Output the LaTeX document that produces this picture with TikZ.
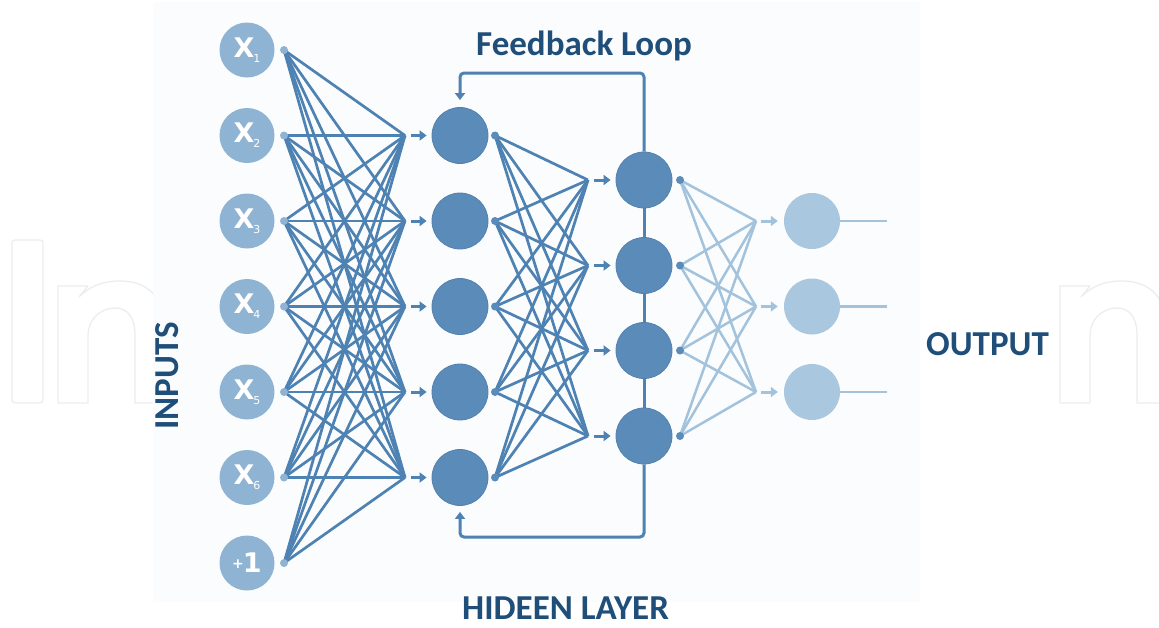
\documentclass[tikz,border=0pt]{standalone}
\usepackage{fontspec}
\setmainfont{Carlito}
\newfontfamily\djv{DejaVu Sans}
\usetikzlibrary{arrows.meta}
\definecolor{inC}{HTML}{8EB3D3}
\definecolor{hidC}{HTML}{5B8BB8}
\definecolor{hidD}{HTML}{5381AF}
\definecolor{outC}{HTML}{A9C7DE}
\definecolor{lineC}{HTML}{4D82B3}
\definecolor{lightL}{HTML}{A3C2DB}
\definecolor{txtC}{HTML}{1F4E79}
\definecolor{wmC}{HTML}{EBEEF0}
\definecolor{bgC}{HTML}{FBFCFD}
\pgfdeclarelayer{wm}
\pgfdeclarelayer{bg}
\pgfsetlayers{wm,bg,main}
\begin{document}
\begin{tikzpicture}[x=1pt,y=-1pt,
  incirc/.style={circle,fill=inC,minimum size=55pt,inner sep=0pt,text=white},
  hidcirc/.style={circle,fill=hidC,draw=hidD,line width=0.8pt,minimum size=56pt,inner sep=0pt},
  outcirc/.style={circle,fill=outC,minimum size=56pt,inner sep=0pt},
  dotn/.style={circle,fill=#1,minimum size=8pt,inner sep=0pt},
  lone/.style={draw=lineC,line width=2.7pt},
  lthree/.style={draw=lightL,line width=2.5pt},
  arrS/.style={draw=#1,line width=3pt,-{Triangle[length=7pt,width=10pt]}},
  fbline/.style={draw=lineC,line width=3pt,rounded corners=4pt,-{Triangle[length=7pt,width=10pt]}},
  title/.style={text=txtC,font=\fontsize{35}{35}\selectfont\bfseries,inner sep=0pt},
  wmline/.style={draw=wmC,line width=1.3pt,line join=round}
]
\clip (0,0) rectangle (1159,627);
\useasboundingbox (0,0) rectangle (1159,627);

% background and watermark
\begin{pgfonlayer}{wm}
\fill[white] (0,0) rectangle (1159,627);
\draw[wmline,rounded corners=3pt] (12,240) rectangle (43,403);
\foreach \ox in {58,1060}{
\draw[wmline] (\ox,403) -- (\ox,286) -- (\ox+30,286) -- (\ox+21,297)
  .. controls (\ox+35,283) and (\ox+50,281) .. (\ox+62,281)
  .. controls (\ox+92,281) and (\ox+107,300) .. (\ox+107,330)
  -- (\ox+107,403) -- (\ox+77,403) -- (\ox+77,335)
  .. controls (\ox+77,318) and (\ox+70,308) .. (\ox+57,308)
  .. controls (\ox+42,308) and (\ox+30,320) .. (\ox+30,335)
  -- (\ox+30,403) -- cycle;}
\fill[bgC] (153,2) rectangle (920,602);
\end{pgfonlayer}

% input layer
\foreach \y [count=\i] in {50,135.5,221,306.5,392,477.5}{
  \node[incirc] (in\i) at (247,\y) {\djv\bfseries\fontsize{27}{27}\selectfont X\kern-1pt\raisebox{-5pt}{\mdseries\fontsize{11}{11}\selectfont\i}};
  \node[dotn=inC] (d0\i) at (284,\y) {};
}
\node[incirc] (in7) at (247,563) {\djv\bfseries\raisebox{4pt}{\fontsize{14}{14}\selectfont+}\kern-1pt\fontsize{27}{27}\selectfont 1};
\node[dotn=inC] (d07) at (284,563) {};

% hidden layer 1
\foreach \y [count=\j] in {135.5,221,306.5,392,477.5}{
  \coordinate (c1\j) at (405,\y);
  \node[hidcirc] (h1\j) at (460,\y) {};
  \node[dotn=hidC] (d1\j) at (495,\y) {};
}
% hidden layer 2
\foreach \y [count=\k] in {180,265.5,350.5,436}{
  \coordinate (c2\k) at (588,\y);
  \node[hidcirc] (h2\k) at (644,\y) {};
  \node[dotn=hidC] (d2\k) at (680,\y) {};
}
% output layer
\foreach \y [count=\m] in {221,306.5,392}{
  \coordinate (c3\m) at (756,\y);
  \node[outcirc] (o\m) at (812,\y) {};
  \coordinate (oe\m) at (887,\y);
}
\coordinate (fbtl) at (460,73);
\coordinate (fbbl) at (460,537);

\begin{pgfonlayer}{bg}
\foreach \i in {1,...,7}{\foreach \j in {1,...,5}{\draw[lone] (d0\i.center) -- (c1\j);}}
\foreach \j in {1,...,5}{\foreach \k in {1,...,4}{\draw[lone] (d1\j.center) -- (c2\k);}}
\foreach \k in {1,...,4}{\foreach \m in {1,...,3}{\draw[lthree] (d2\k.center) -- (c3\m);}}
\foreach \j in {1,...,5}{\draw[arrS=lineC] ([xshift=6pt]c1\j) -- ([xshift=-5pt]h1\j.west);}
\foreach \k in {1,...,4}{\draw[arrS=lineC] ([xshift=6pt]c2\k) -- ([xshift=-5pt]h2\k.west);}
\foreach \m in {1,...,3}{\draw[arrS=lightL] ([xshift=5pt]c3\m) -- ([xshift=-6pt]o\m.west);}
\foreach \m in {1,...,3}{\draw[lthree] (o\m.east) -- (oe\m);}
\draw[lone,line width=3pt] (h21) -- (h22) -- (h23) -- (h24);
\draw[fbline] (h21.north) |- (fbtl) -- ([yshift=7pt]h11.north);
\draw[fbline] (h24.south) |- (fbbl) -- ([yshift=-6pt]h15.south);
\end{pgfonlayer}

% labels
\node[title,anchor=base west] (fbl) at (476,55) {Feedback Loop};
\node[title,anchor=base west] (hl) at (462,619) {HIDEEN LAYER};
\node[title,anchor=base west] (ol) at (926,355) {OUTPUT};
\node[title,anchor=base west,rotate=90] (il) at (178,430) {INPUTS};
\end{tikzpicture}
\end{document}
